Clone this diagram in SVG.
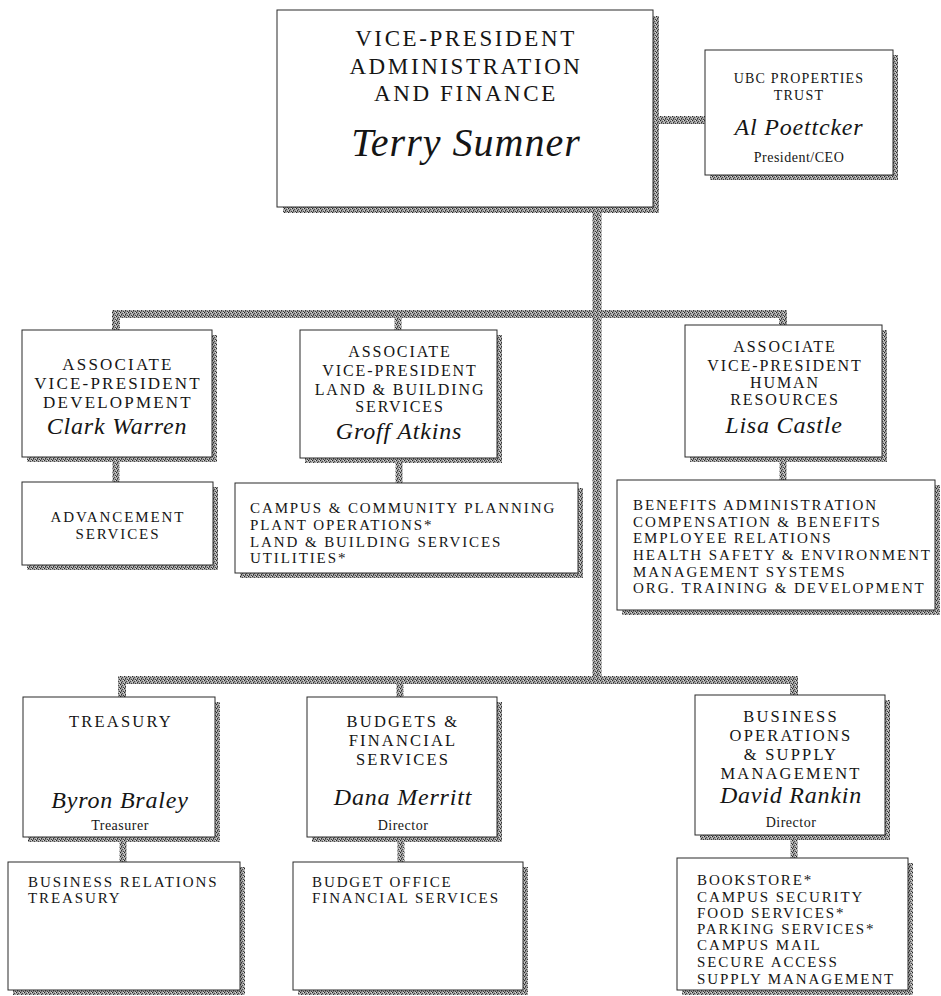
<svg xmlns="http://www.w3.org/2000/svg" width="941" height="996" viewBox="0 0 941 996">
<defs>
<pattern id="hatch" width="4" height="4" patternUnits="userSpaceOnUse">
<rect width="4" height="4" fill="#a2a2a2"/>
<rect x="0" y="0" width="1" height="1" fill="#222"/>
<rect x="2" y="1" width="1" height="1" fill="#4a4a4a"/>
<rect x="1" y="2" width="1" height="1" fill="#333"/>
<rect x="3" y="3" width="1" height="1" fill="#3c3c3c"/>
<rect x="3" y="0" width="1" height="1" fill="#dcdcdc"/>
<rect x="1" y="3" width="1" height="1" fill="#666"/>
<rect x="0" y="2" width="1" height="1" fill="#d0d0d0"/>
</pattern>
</defs>
<style>
.box{fill:#fff;stroke:#2a2a2a;stroke-width:1}
.sh{fill:url(#hatch)}
.con{fill:none;stroke:url(#hatch)}
text{font-family:"Liberation Serif","Times New Roman",serif;fill:#151515}
.c{text-anchor:middle}
.t1{font-size:23px;letter-spacing:2.6px}
.t2{font-size:17px;letter-spacing:2.2px}
.t3{font-size:16px;letter-spacing:1.9px}
.t4{font-size:16.5px;letter-spacing:2.2px}
.s{font-size:15px;letter-spacing:1.9px}
.u{font-size:14px;letter-spacing:1.2px}
.sm{font-size:14px;letter-spacing:0.5px}
.nm{font-style:italic;font-size:24px;letter-spacing:0.8px}
.big{font-style:italic;font-size:40px;letter-spacing:1px}
</style>
<rect width="941" height="996" fill="#fff"/>

<g id="connectors">
<path class="con" stroke-width="9" d="M597,207 V680"/>
<path class="con" stroke-width="8" d="M658,120 H705"/>
<path class="con" stroke-width="8" d="M116,330 V314 H783 V325"/>
<path class="con" stroke-width="7" d="M398,314 V330"/>
<path class="con" stroke-width="7" d="M116,460 V482"/>
<path class="con" stroke-width="7" d="M399,462 V483"/>
<path class="con" stroke-width="7" d="M783,462 V480"/>
<path class="con" stroke-width="8" d="M122,697 V680 H794 V695"/>
<path class="con" stroke-width="7" d="M400,680 V697"/>
<path class="con" stroke-width="7" d="M123,840 V862"/>
<path class="con" stroke-width="7" d="M401,840 V862"/>
<path class="con" stroke-width="7" d="M794,838 V858"/>
</g>

<g id="vp">
<rect class="sh" x="283" y="16" width="376" height="197"/>
<rect class="box" x="277" y="10" width="376" height="197"/>
<text class="c t1" x="466" y="46">VICE-PRESIDENT</text>
<text class="c t1" x="466" y="74">ADMINISTRATION</text>
<text class="c t1" x="466" y="101">AND FINANCE</text>
<text class="c big" x="466" y="156">Terry Sumner</text>
</g>

<g id="ubc">
<rect class="sh" x="710" y="55" width="188" height="125"/>
<rect class="box" x="705" y="50" width="188" height="125"/>
<text class="c u" x="799" y="83">UBC PROPERTIES</text>
<text class="c u" x="799" y="100">TRUST</text>
<text class="c nm" x="799" y="135">Al Poettcker</text>
<text class="c sm" x="799" y="162">President/CEO</text>
</g>

<g id="clark">
<rect class="sh" x="27" y="335" width="190" height="127"/>
<rect class="box" x="22" y="330" width="190" height="127"/>
<text class="c t2" x="118" y="370">ASSOCIATE</text>
<text class="c t2" x="118" y="389">VICE-PRESIDENT</text>
<text class="c t2" x="118" y="408">DEVELOPMENT</text>
<text class="c nm" x="117" y="434">Clark Warren</text>
</g>

<g id="advancement">
<rect class="sh" x="27" y="487" width="191" height="83"/>
<rect class="box" x="22" y="482" width="191" height="83"/>
<text class="c s" x="118" y="522">ADVANCEMENT</text>
<text class="c s" x="118" y="539">SERVICES</text>
</g>

<g id="groff">
<rect class="sh" x="305" y="335" width="197" height="128"/>
<rect class="box" x="300" y="330" width="197" height="128"/>
<text class="c t3" x="400" y="357">ASSOCIATE</text>
<text class="c t3" x="400" y="376">VICE-PRESIDENT</text>
<text class="c t3" x="400" y="395">LAND &amp; BUILDING</text>
<text class="c t3" x="400" y="412">SERVICES</text>
<text class="c nm" x="399" y="439">Groff Atkins</text>
</g>

<g id="groff-units">
<rect class="sh" x="240" y="488" width="343" height="90"/>
<rect class="box" x="235" y="483" width="343" height="90"/>
<text class="s" x="250" y="513">CAMPUS &amp; COMMUNITY PLANNING</text>
<text class="s" x="250" y="530">PLANT OPERATIONS*</text>
<text class="s" x="250" y="547">LAND &amp; BUILDING SERVICES</text>
<text class="s" x="250" y="563">UTILITIES*</text>
</g>

<g id="lisa">
<rect class="sh" x="690" y="330" width="197" height="132"/>
<rect class="box" x="685" y="325" width="197" height="132"/>
<text class="c t3" x="785" y="352">ASSOCIATE</text>
<text class="c t3" x="785" y="371">VICE-PRESIDENT</text>
<text class="c t3" x="785" y="388">HUMAN</text>
<text class="c t3" x="785" y="405">RESOURCES</text>
<text class="c nm" x="784" y="433">Lisa Castle</text>
</g>

<g id="lisa-units">
<rect class="sh" x="622" y="485" width="318" height="130"/>
<rect class="box" x="617" y="480" width="318" height="130"/>
<text class="s" x="633" y="510">BENEFITS ADMINISTRATION</text>
<text class="s" x="633" y="527">COMPENSATION &amp; BENEFITS</text>
<text class="s" x="633" y="543">EMPLOYEE RELATIONS</text>
<text class="s" x="633" y="560">HEALTH SAFETY &amp; ENVIRONMENT</text>
<text class="s" x="633" y="577">MANAGEMENT SYSTEMS</text>
<text class="s" x="633" y="593">ORG. TRAINING &amp; DEVELOPMENT</text>
</g>

<g id="treasury">
<rect class="sh" x="28" y="702" width="192" height="140"/>
<rect class="box" x="23" y="697" width="192" height="140"/>
<text class="c t4" x="121" y="727">TREASURY</text>
<text class="c nm" x="120" y="808">Byron Braley</text>
<text class="c sm" x="120" y="830">Treasurer</text>
</g>

<g id="treasury-units">
<rect class="sh" x="13" y="867" width="232" height="128"/>
<rect class="box" x="8" y="862" width="232" height="128"/>
<text class="s" x="28" y="887">BUSINESS RELATIONS</text>
<text class="s" x="28" y="903">TREASURY</text>
</g>

<g id="budgets">
<rect class="sh" x="312" y="702" width="190" height="140"/>
<rect class="box" x="307" y="697" width="190" height="140"/>
<text class="c t4" x="403" y="727">BUDGETS &amp;</text>
<text class="c t4" x="403" y="746">FINANCIAL</text>
<text class="c t4" x="403" y="765">SERVICES</text>
<text class="c nm" x="403" y="805">Dana Merritt</text>
<text class="c sm" x="403" y="830">Director</text>
</g>

<g id="budgets-units">
<rect class="sh" x="298" y="867" width="230" height="128"/>
<rect class="box" x="293" y="862" width="230" height="128"/>
<text class="s" x="312" y="887">BUDGET OFFICE</text>
<text class="s" x="312" y="903">FINANCIAL SERVICES</text>
</g>

<g id="business">
<rect class="sh" x="700" y="700" width="190" height="140"/>
<rect class="box" x="695" y="695" width="190" height="140"/>
<text class="c t4" x="791" y="722">BUSINESS</text>
<text class="c t4" x="791" y="741">OPERATIONS</text>
<text class="c t4" x="791" y="760">&amp; SUPPLY</text>
<text class="c t4" x="791" y="779">MANAGEMENT</text>
<text class="c nm" x="791" y="803">David Rankin</text>
<text class="c sm" x="791" y="827">Director</text>
</g>

<g id="business-units">
<rect class="sh" x="682" y="863" width="231" height="132"/>
<rect class="box" x="677" y="858" width="231" height="132"/>
<text class="s" x="697" y="885">BOOKSTORE*</text>
<text class="s" x="697" y="902">CAMPUS SECURITY</text>
<text class="s" x="697" y="918">FOOD SERVICES*</text>
<text class="s" x="697" y="934">PARKING SERVICES*</text>
<text class="s" x="697" y="950">CAMPUS MAIL</text>
<text class="s" x="697" y="967">SECURE ACCESS</text>
<text class="s" x="697" y="984">SUPPLY MANAGEMENT</text>
</g>
</svg>
